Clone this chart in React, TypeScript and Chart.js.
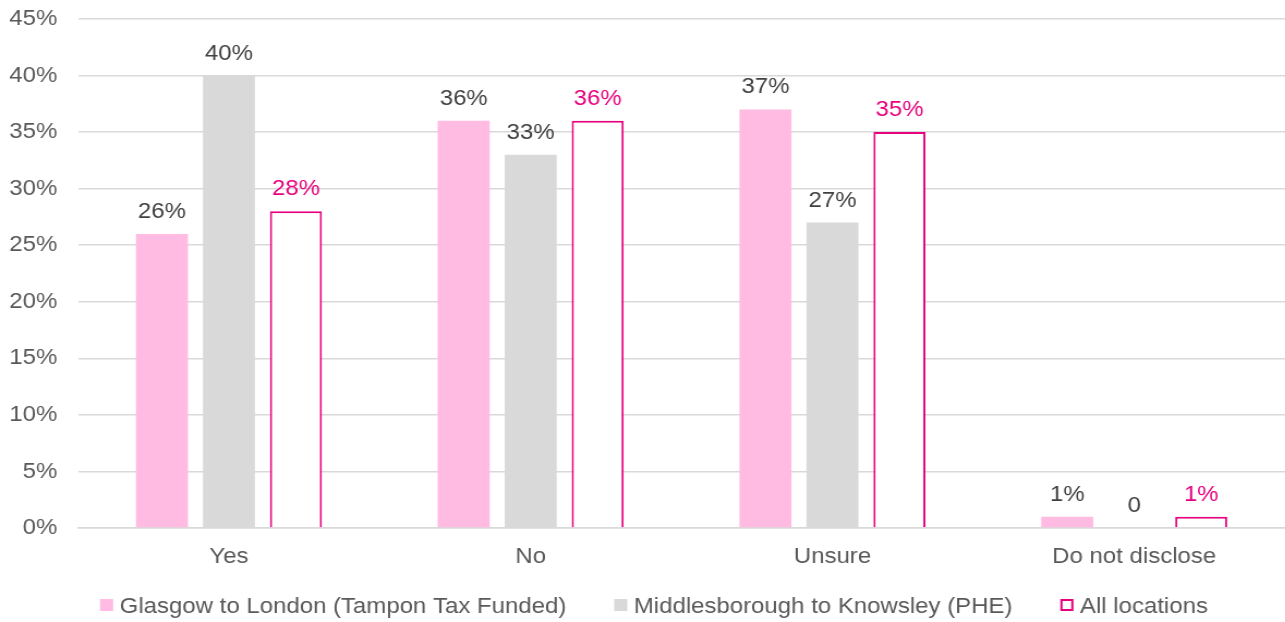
import React, { useEffect, useRef } from "react";
import { Chart, registerables } from "chart.js";

Chart.register(...registerables);

// ---- data ----
const categories = ["Yes", "No", "Unsure", "Do not disclose"];
const seriesNames = [
  "Glasgow to London (Tampon Tax Funded)",
  "Middlesborough to Knowsley (PHE)",
  "All locations",
];
const glasgowValues = [26, 36, 37, 1];
const middlesboroughValues = [40, 33, 27, 0];
const allLocationsValues = [28, 36, 35, 1];
const yMin = 0;
const yMax = 45;
const yStep = 5;

// ---- styles ----
const FONT = "'Liberation Sans', Arial, Helvetica, sans-serif";
const STRETCH = 1.09;
const W = Math.round(1285 / STRETCH);
const H = 622;
const PINK_FILL = "#FFBBE2";
const GREY_FILL = "#D9D9D9";
const MAGENTA = "#E6007E";
const DARK = "#404040";
const AXIS_TEXT = "#595959";
const FONT_SIZE = 22;

const fmt = (v: number) => (v === 0 ? "0" : `${v}%`);

const labelColors = [DARK, DARK, MAGENTA];

const dataLabelPlugin = {
  id: "dataLabels",
  afterDatasetsDraw(chart: any) {
    const ctx = chart.ctx;
    ctx.save();
    ctx.font = `${FONT_SIZE}px ${FONT}`;
    ctx.textAlign = "center";
    ctx.textBaseline = "alphabetic";
    chart.data.datasets.forEach((ds: any, di: number) => {
      const meta = chart.getDatasetMeta(di);
      meta.data.forEach((el: any, i: number) => {
        const v = ds.data[i];
        ctx.fillStyle = labelColors[di];
        ctx.fillText(fmt(v), el.x, el.y - 16);
      });
    });
    ctx.restore();
  },
};

const legendPlugin = {
  id: "customLegend",
  afterDraw(chart: any) {
    const ctx = chart.ctx;
    ctx.save();
    ctx.font = `${FONT_SIZE}px ${FONT}`;
    const box = 12;
    const gapText = 6;
    const gapItem = 44;
    const items = chart.data.datasets.map((ds: any) => ({
      ds,
      text: ds.label,
      w: ctx.measureText(ds.label).width,
    }));
    const total =
      items.reduce((s: number, it: any) => s + box + gapText + it.w, 0) +
      gapItem * (items.length - 1);
    let x = 600 - total / 2;
    const boxTop = 599;
    const baseline = 613;
    items.forEach((it: any) => {
      if (it.ds.borderWidth) {
        ctx.fillStyle = "#FFFFFF";
        ctx.fillRect(x, boxTop, box, box);
        ctx.strokeStyle = it.ds.borderColor;
        ctx.lineWidth = 2;
        ctx.strokeRect(x + 1, boxTop + 1, box - 2, box - 2);
      } else {
        ctx.fillStyle = it.ds.backgroundColor;
        ctx.fillRect(x, boxTop, box, box);
      }
      x += box + gapText;
      ctx.fillStyle = AXIS_TEXT;
      ctx.textAlign = "left";
      ctx.textBaseline = "alphabetic";
      ctx.fillText(it.text, x, baseline);
      x += it.w + gapItem;
    });
    ctx.restore();
  },
};

export default function App() {
  const ref = useRef<HTMLCanvasElement | null>(null);

  useEffect(() => {
    if (!ref.current) return;
    const chart = new Chart(ref.current, {
      type: "bar",
      data: {
        labels: categories,
        datasets: [
          {
            label: seriesNames[0],
            data: glasgowValues,
            backgroundColor: PINK_FILL,
            borderWidth: 0,
          },
          {
            label: seriesNames[1],
            data: middlesboroughValues,
            backgroundColor: GREY_FILL,
            borderWidth: 0,
          },
          {
            label: seriesNames[2],
            data: allLocationsValues,
            backgroundColor: "#FFFFFF",
            borderColor: MAGENTA,
            borderWidth: 2,
          },
        ],
      },
      options: {
        animation: false,
        responsive: true,
        maintainAspectRatio: false,
        layout: { padding: { top: 0, left: 8, right: 0, bottom: 54 } },
        datasets: {
          bar: { categoryPercentage: 0.666, barPercentage: 0.776 },
        },
        plugins: {
          legend: { display: false },
          tooltip: { enabled: false },
        },
        scales: {
          x: {
            grid: { display: false, drawTicks: false },
            border: { display: true, color: GREY_FILL, width: 1.5 },
            ticks: {
              color: AXIS_TEXT,
              font: { family: FONT, size: FONT_SIZE },
              padding: 16,
              maxRotation: 0,
            },
            afterFit: (scale: any) => {
              scale.height = 40;
            },
          },
          y: {
            min: yMin,
            max: yMax,
            grid: { color: GREY_FILL, lineWidth: 1.5, drawTicks: false },
            border: { display: false },
            ticks: {
              stepSize: yStep,
              color: AXIS_TEXT,
              font: { family: FONT, size: FONT_SIZE },
              padding: 19,
              callback: (v: any) => `${v}%`,
            },
            afterFit: (scale: any) => {
              scale.width = 63.6;
              scale.paddingTop = 19;
              scale.paddingBottom = 0;
            },
          },
        },
      },
      plugins: [dataLabelPlugin, legendPlugin],
    });
    return () => chart.destroy();
  }, []);

  return (
    <div
      style={{
        position: "fixed",
        left: 0,
        top: 0,
        width: 1285,
        height: H,
        overflow: "hidden",
        background: "#FFFFFF",
      }}
    >
      <div
        style={{
          width: W,
          height: H,
          transform: `scaleX(${STRETCH})`,
          transformOrigin: "0 0",
        }}
      >
        <canvas ref={ref} />
      </div>
    </div>
  );
}
